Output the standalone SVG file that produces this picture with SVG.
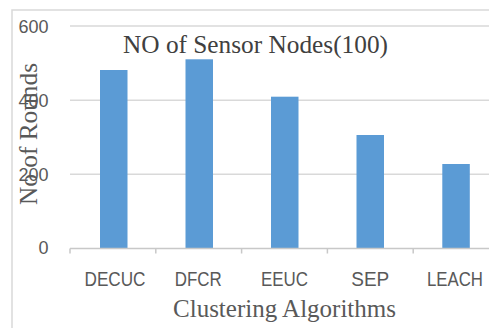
<svg xmlns="http://www.w3.org/2000/svg" width="489" height="328" viewBox="0 0 489 328">
  <style>
    .grid { stroke: #d9d9d9; stroke-width: 1.5; fill: none; }
    .axis { stroke: #c8c8c8; stroke-width: 1.5; fill: none; }
    .bar { fill: #5b9bd5; }
    .tick { font-family: "Liberation Sans", Arial, sans-serif; font-size: 18px; fill: #595959; text-anchor: end; }
    .cat { font-family: "Liberation Sans", Arial, sans-serif; font-size: 21px; fill: #595959; text-anchor: middle; }
    .title { font-family: "Liberation Serif", "Times New Roman", serif; fill: #404040; text-anchor: middle; }
    .atitle { font-family: "Liberation Serif", "Times New Roman", serif; fill: #595959; text-anchor: middle; }
  </style>
  <rect x="0" y="0" width="489" height="328" fill="#ffffff"/>
  <path class="grid" d="M12,340 V10 H500"/>
  <g id="gridlines">
    <line class="grid" x1="70" y1="26" x2="489" y2="26"/>
    <line class="grid" x1="70" y1="100.2" x2="489" y2="100.2"/>
    <line class="grid" x1="70" y1="174.3" x2="489" y2="174.3"/>
  </g>
  <g id="bars">
    <rect class="bar" x="100" y="70" width="27.5" height="178.5"/>
    <rect class="bar" x="185.5" y="59.3" width="27.5" height="189.2"/>
    <rect class="bar" x="271" y="96.7" width="27.5" height="151.8"/>
    <rect class="bar" x="356.5" y="135" width="27.5" height="113.5"/>
    <rect class="bar" x="442.3" y="164" width="27.5" height="84.5"/>
  </g>
  <g id="x-axis">
    <line class="axis" x1="70" y1="248.5" x2="489" y2="248.5"/>
    <path class="axis" d="M70,248.5 v5 M155.8,248.5 v5 M241.6,248.5 v5 M327.4,248.5 v5 M413.2,248.5 v5"/>
  </g>
  <g id="y-labels">
    <text class="tick" x="48.5" y="32.5">600</text>
    <text class="tick" x="48.5" y="106.7">400</text>
    <text class="tick" x="48.5" y="180.8">200</text>
    <text class="tick" x="48.5" y="254">0</text>
  </g>
  <g id="x-labels">
    <text class="cat" x="115" y="285.5" textLength="61" lengthAdjust="spacingAndGlyphs">DECUC</text>
    <text class="cat" x="198.3" y="285.5" textLength="47" lengthAdjust="spacingAndGlyphs">DFCR</text>
    <text class="cat" x="284.5" y="285.5" textLength="47" lengthAdjust="spacingAndGlyphs">EEUC</text>
    <text class="cat" x="370.3" y="285.5" textLength="38" lengthAdjust="spacingAndGlyphs">SEP</text>
    <text class="cat" x="455" y="285.5" textLength="56" lengthAdjust="spacingAndGlyphs">LEACH</text>
  </g>
  <text class="title" x="255.5" y="53" font-size="25.5" textLength="265" lengthAdjust="spacingAndGlyphs">NO of Sensor Nodes(100)</text>
  <text class="atitle" x="284.5" y="317" font-size="24.5" textLength="223" lengthAdjust="spacingAndGlyphs">Clustering Algorithms</text>
  <text class="atitle" transform="translate(37,134) rotate(-90)" x="0" y="0" font-size="25" textLength="142" lengthAdjust="spacingAndGlyphs">No of Rounds</text>
</svg>
